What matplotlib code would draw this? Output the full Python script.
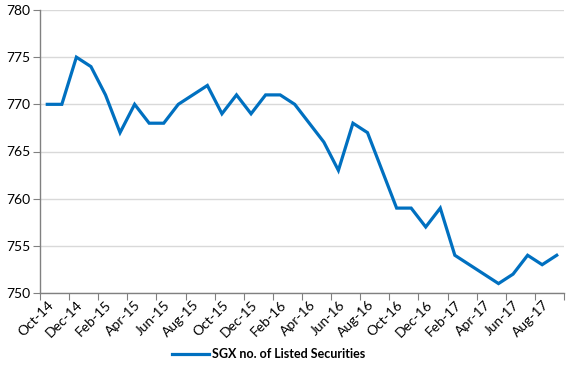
import matplotlib
matplotlib.use("Agg")
import matplotlib.pyplot as plt
import numpy as np

months = ["Oct-14","Nov-14","Dec-14","Jan-15","Feb-15","Mar-15","Apr-15","May-15","Jun-15",
          "Jul-15","Aug-15","Sep-15","Oct-15","Nov-15","Dec-15","Jan-16","Feb-16","Mar-16",
          "Apr-16","May-16","Jun-16","Jul-16","Aug-16","Sep-16","Oct-16","Nov-16","Dec-16",
          "Jan-17","Feb-17","Mar-17","Apr-17","May-17","Jun-17","Jul-17","Aug-17","Sep-17"]
listed = [770, 770, 775, 774, 771, 767, 770, 768, 768,
          770, 771, 772, 769, 771, 769, 771, 771, 770,
          768, 766, 763, 768, 767, 763, 759, 759, 757,
          759, 754, 753, 752, 751, 752, 754, 753, 754]
series_name = "SGX no. of Listed Securities"

plt.rcParams['font.family'] = ['Lato', 'DejaVu Sans']

fig = plt.figure(figsize=(5.71, 3.74), dpi=100)
ax = fig.add_axes([40/571, 1-293/374, (564-40)/571, (293-10)/374])

x = np.arange(len(months))
line, = ax.plot(x, listed, color="#0070C0", linewidth=2.3, solid_joinstyle='miter', label=series_name)

ax.set_xlim(-0.5, len(months)-0.5)
ax.set_ylim(750, 780)
ax.set_yticks(np.arange(750, 781, 5))
ax.grid(axis='y', color='#d9d9d9', linewidth=1)
ax.set_axisbelow(True)

# major ticks at category boundaries, every 2
ax.set_xticks(np.arange(-0.5, len(months), 2))
ax.set_xticklabels([])
ax.set_xticks(x[::2], minor=True)
ax.set_xticklabels(months[::2], minor=True, rotation=45, ha='right', va='top',
                   rotation_mode='anchor', fontsize=10)
ax.tick_params(axis='x', which='minor', length=0, pad=4)
ax.tick_params(axis='x', which='major', length=5, direction='out', color='#808080')
ax.tick_params(axis='y', length=5, direction='out', color='#808080', labelsize=10, pad=2)

for s in ['top', 'right']:
    ax.spines[s].set_visible(False)
for s in ['left', 'bottom']:
    ax.spines[s].set_color('#808080')
    ax.spines[s].set_linewidth(1)

fig.legend(handles=[line], loc='center', bbox_to_anchor=(0.47, 1-354/374), frameon=False,
           prop={'weight': 'bold', 'size': 9}, handlelength=3.0, handletextpad=0.2)

fig.savefig("out.png", dpi=100)
